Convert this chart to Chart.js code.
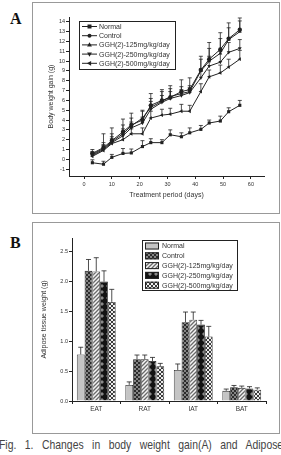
<!DOCTYPE html>
<html>
<head>
<meta charset="utf-8">
<script src="https://cdn.jsdelivr.net/npm/chart.js@4.4.0/dist/chart.umd.min.js"></script>
<style>
html, body { margin:0; padding:0; background:#fff; }
body { width:281px; height:455px; overflow:hidden; position:relative; font-family:"Liberation Sans", Arial, sans-serif; }
.box { position:absolute; border:1px solid #999; box-sizing:border-box; }
.box div { position:relative; width:100%; height:100%; }
.lab { position:absolute; font:bold 16px "Liberation Serif", serif; color:#111; }
#cap { position:absolute; left:-1px; top:437px; font-size:13px; color:#444; white-space:nowrap; word-spacing:7px; transform:scaleX(0.8); transform-origin:0 0; }
</style>
</head>
<body>
<div class="lab" style="left:10px;top:10px">A</div>
<div class="box" style="left:32px;top:2px;width:248px;height:212px"><div><canvas id="chartA"></canvas></div></div>
<div class="lab" style="left:10px;top:234px">B</div>
<div class="box" style="left:32px;top:222px;width:248px;height:212px"><div><canvas id="chartB"></canvas></div></div>
<div id="cap">Fig. 1. Changes in body weight gain(A) and Adipose</div>
<script>
// ---- panel A: body weight gain ----
const days = [3, 7, 10, 14, 17, 21, 24, 28, 31, 35, 38, 42, 45, 49, 52, 56];
const groupNames = ['Normal', 'Control', 'GGH(2)-125mg/kg/day', 'GGH(2)-250mg/kg/day', 'GGH(2)-500mg/kg/day'];
const gainNormal = [-0.35, -0.5, 0.2, 0.6, 0.65, 1.3, 1.7, 1.7, 2.5, 2.3, 2.7, 3.05, 3.7, 3.9, 4.85, 5.5];
const gainControl = [0.6, 1.2, 1.9, 2.8, 3.5, 4.0, 5.5, 6.0, 6.3, 6.9, 7.1, 9.1, 10.2, 11.2, 12.3, 13.2];
const gain125 = [0.5, 1.1, 1.8, 2.6, 3.4, 4.2, 5.3, 5.9, 6.4, 6.7, 6.9, 9.0, 10.0, 10.8, 12.2, 13.0];
const gain250 = [0.4, 1.0, 1.7, 2.4, 3.2, 3.7, 5.1, 5.8, 6.2, 6.5, 6.8, 8.3, 9.5, 9.9, 10.9, 11.3];
const gain500 = [0.3, 0.9, 1.6, 2.0, 2.6, 2.6, 4.2, 4.5, 4.6, 4.9, 4.9, 6.9, 8.4, 8.8, 9.4, 10.2];
const errNormal = [0.3, 0.3, 0.3, 0.5, 0.4, 0.6, 0.4, 0.3, 0.5, 0.4, 0.5, 0.4, 0.3, 0.5, 0.4, 0.5];
const errControl = [0.4, 1.4, 1.3, 1.3, 1.2, 1.0, 1.2, 1.1, 1.2, 1.2, 1.2, 1.4, 1.7, 1.7, 1.6, 1.2];
const err125 = [0.3, 0.6, 0.8, 0.9, 0.8, 0.7, 0.9, 1.0, 0.8, 0.7, 0.6, 1.2, 1.3, 1.5, 1.2, 1.1];
const err250 = [0.3, 0.5, 0.6, 0.7, 0.6, 0.6, 0.8, 0.7, 0.7, 0.6, 0.5, 0.9, 1.0, 1.1, 1.0, 0.9];
const err500 = [0.3, 0.5, 0.5, 0.6, 0.5, 0.6, 0.7, 0.6, 0.6, 0.7, 0.6, 0.8, 0.7, 0.8, 0.8, 0.9];
const yTicksA = [-1, 0, 1, 2, 3, 4, 5, 6, 7, 8, 9, 10, 11, 12, 13, 14];
const xTicksA = [0, 10, 20, 30, 40, 50, 60];

// ---- panel B: adipose tissue weight ----
const tissues = ['EAT', 'RAT', 'IAT', 'BAT'];
const fatNormal = [0.78, 0.27, 0.52, 0.17];
const fatControl = [2.18, 0.70, 1.32, 0.23];
const fat125 = [2.17, 0.70, 1.36, 0.22];
const fat250 = [2.00, 0.67, 1.28, 0.21];
const fat500 = [1.66, 0.58, 1.08, 0.19];
const fatErrNormal = [0.12, 0.05, 0.10, 0.03];
const fatErrControl = [0.19, 0.07, 0.17, 0.03];
const fatErr125 = [0.23, 0.07, 0.13, 0.03];
const fatErr250 = [0.18, 0.06, 0.07, 0.03];
const fatErr500 = [0.21, 0.05, 0.17, 0.03];
const yTicksB = [0, 0.5, 1.0, 1.5, 2.0, 2.5];

const ink = '#222';

// error bars (upward only, with cap)
const errBars = {
  id: 'errBars',
  afterDatasetsDraw(chart, args, opts) {
    const ctx = chart.ctx, ys = chart.scales.y;
    ctx.save();
    ctx.strokeStyle = ink;
    ctx.lineWidth = 0.8;
    chart.data.datasets.forEach((ds, i) => {
      if (!ds.errs) return;
      chart.getDatasetMeta(i).data.forEach((el, j) => {
        const d = ds.data[j];
        const v = typeof d === 'object' ? d.y : d;
        const top = ys.getPixelForValue(v + ds.errs[j]);
        ctx.beginPath();
        ctx.moveTo(el.x, el.y);
        ctx.lineTo(el.x, top);
        ctx.moveTo(el.x - opts.cap, top);
        ctx.lineTo(el.x + opts.cap, top);
        ctx.stroke();
      });
    });
    ctx.restore();
  }
};

function marker(ctx, style, rot, x, y, r) {
  ctx.save();
  ctx.translate(x, y);
  ctx.rotate(rot * Math.PI / 180);
  ctx.beginPath();
  if (style === 'rect') ctx.rect(-r, -r, 2 * r, 2 * r);
  else if (style === 'triangle') { ctx.moveTo(0, -r * 1.3); ctx.lineTo(r * 1.2, r * 0.8); ctx.lineTo(-r * 1.2, r * 0.8); ctx.closePath(); }
  else ctx.arc(0, 0, r, 0, Math.PI * 2);
  ctx.fill();
  ctx.restore();
}

// boxed legends drawn inside the plot
const legendA = {
  id: 'legendA',
  afterDraw(chart) {
    const ctx = chart.ctx, a = chart.chartArea;
    const x0 = a.left + 10, y0 = a.top + 4;
    ctx.save();
    ctx.fillStyle = '#fff';
    ctx.fillRect(x0, y0, 96, 48);
    ctx.strokeStyle = ink;
    ctx.lineWidth = 1;
    ctx.strokeRect(x0 + 0.5, y0 + 0.5, 96, 48);
    ctx.font = '7px "Liberation Sans", Arial, sans-serif';
    ctx.textBaseline = 'middle';
    chart.data.datasets.forEach((ds, i) => {
      const yy = y0 + 5.5 + i * 9.2;
      ctx.beginPath();
      ctx.moveTo(x0 + 3, yy);
      ctx.lineTo(x0 + 18, yy);
      ctx.stroke();
      ctx.fillStyle = ink;
      marker(ctx, ds.pointStyle, ds.pointRotation || 0, x0 + 10.5, yy, 2);
      ctx.fillStyle = '#333';
      ctx.fillText(ds.label, x0 + 20, yy + 0.5);
    });
    ctx.restore();
  }
};

const legendB = {
  id: 'legendB',
  afterDraw(chart) {
    const ctx = chart.ctx, a = chart.chartArea;
    const x0 = a.left + 70, y0 = a.top + 2;
    ctx.save();
    ctx.fillStyle = '#fff';
    ctx.fillRect(x0, y0, 95, 50);
    ctx.strokeStyle = ink;
    ctx.lineWidth = 1;
    ctx.strokeRect(x0 + 0.5, y0 + 0.5, 95, 50);
    ctx.font = '7px "Liberation Sans", Arial, sans-serif';
    ctx.textBaseline = 'middle';
    chart.data.datasets.forEach((ds, i) => {
      const yy = y0 + 6 + i * 9.8;
      ctx.fillStyle = ds.backgroundColor;
      ctx.fillRect(x0 + 3, yy - 3.5, 14, 7);
      ctx.strokeRect(x0 + 3.5, yy - 3, 13, 6);
      ctx.fillStyle = '#333';
      ctx.fillText(ds.label, x0 + 20, yy + 0.5);
    });
    ctx.restore();
  }
};

function pattern(size, draw) {
  const c = document.createElement('canvas');
  c.width = c.height = size;
  const g = c.getContext('2d');
  draw(g, size);
  return g.createPattern(c, 'repeat');
}

const fillNormal = '#c4c4c4';
const fillControl = pattern(4, (g, s) => {
  g.fillStyle = '#2c2c2c'; g.fillRect(0, 0, s, s);
  g.strokeStyle = '#9a9a9a'; g.lineWidth = 0.8;
  g.beginPath(); g.moveTo(0, 0); g.lineTo(s, s); g.moveTo(s, 0); g.lineTo(0, s); g.stroke();
});
const fill125 = pattern(4, (g, s) => {
  g.fillStyle = '#f4f4f4'; g.fillRect(0, 0, s, s);
  g.strokeStyle = '#6a6a6a'; g.lineWidth = 1.3;
  g.beginPath(); g.moveTo(0, s); g.lineTo(s, 0); g.moveTo(-1, 1); g.lineTo(1, -1); g.moveTo(s - 1, s + 1); g.lineTo(s + 1, s - 1); g.stroke();
});
const fill250 = pattern(6, (g, s) => {
  g.fillStyle = '#141414'; g.fillRect(0, 0, s, s);
  g.fillStyle = '#8a8a8a';
  g.beginPath(); g.moveTo(3, 1); g.lineTo(5, 3); g.lineTo(3, 5); g.lineTo(1, 3); g.closePath(); g.fill();
});
const fill500 = pattern(4, (g, s) => {
  g.fillStyle = '#eeeeee'; g.fillRect(0, 0, s, s);
  g.fillStyle = '#3a3a3a'; g.fillRect(0, 0, 2, 2); g.fillRect(2, 2, 2, 2);
});

const tickFont = { family: 'Liberation Sans', size: 5.5 };
const titleFont = { family: 'Liberation Sans', size: 7 };

function lineSet(label, vals, errs, style, rot) {
  return {
    label: label,
    data: days.map((d, i) => ({ x: d, y: vals[i] })),
    errs: errs,
    borderColor: ink,
    backgroundColor: ink,
    borderWidth: 1,
    pointStyle: style,
    pointRotation: rot,
    pointRadius: 2.2,
    pointBorderWidth: 0,
    tension: 0
  };
}

new Chart(document.getElementById('chartA').getContext('2d'), {
  type: 'line',
  data: {
    datasets: [
      lineSet(groupNames[0], gainNormal, errNormal, 'rect', 0),
      lineSet(groupNames[1], gainControl, errControl, 'circle', 0),
      lineSet(groupNames[2], gain125, err125, 'triangle', 0),
      lineSet(groupNames[3], gain250, err250, 'triangle', 180),
      lineSet(groupNames[4], gain500, err500, 'triangle', -90)
    ]
  },
  options: {
    responsive: true,
    maintainAspectRatio: false,
    animation: false,
    layout: { padding: { top: 14, right: 15, left: 0, bottom: 0 } },
    plugins: { legend: { display: false }, tooltip: { enabled: false }, errBars: { cap: 2 } },
    scales: {
      x: {
        type: 'linear',
        min: -5.4,
        max: 64.7,
        afterBuildTicks: s => { s.ticks = xTicksA.map(v => ({ value: v })); },
        afterFit: s => { s.height = 37; },
        grid: { drawOnChartArea: false, color: ink, tickLength: 3 },
        border: { color: ink, width: 1 },
        ticks: { color: '#333', font: tickFont, padding: 2, maxRotation: 0 },
        title: { display: true, text: 'Treatment period (days)', color: '#333', font: titleFont, padding: { top: 0, bottom: 14 } }
      },
      y: {
        min: -1.7,
        max: 14.5,
        afterBuildTicks: s => { s.ticks = yTicksA.map(v => ({ value: v })); },
        afterFit: s => { s.width = 36; },
        grid: { drawOnChartArea: false, color: ink, tickLength: 3 },
        border: { color: ink, width: 1 },
        ticks: { color: '#333', font: tickFont, padding: 1 },
        title: { display: true, text: 'Body weight gain (g)', color: '#333', font: titleFont, padding: { top: 14, bottom: 0 } }
      }
    }
  },
  plugins: [errBars, legendA]
});

function barSet(label, vals, errs, fill) {
  return {
    label: label,
    data: vals,
    errs: errs,
    backgroundColor: fill,
    borderColor: ink,
    borderWidth: 0.8,
    categoryPercentage: 0.8,
    barPercentage: 1.0
  };
}

new Chart(document.getElementById('chartB').getContext('2d'), {
  type: 'bar',
  data: {
    labels: tissues,
    datasets: [
      barSet(groupNames[0], fatNormal, fatErrNormal, fillNormal),
      barSet(groupNames[1], fatControl, fatErrControl, fillControl),
      barSet(groupNames[2], fat125, fatErr125, fill125),
      barSet(groupNames[3], fat250, fatErr250, fill250),
      barSet(groupNames[4], fat500, fatErr500, fill500)
    ]
  },
  options: {
    responsive: true,
    maintainAspectRatio: false,
    animation: false,
    layout: { padding: { top: 15, right: 13, left: 0, bottom: 0 } },
    plugins: { legend: { display: false }, tooltip: { enabled: false }, errBars: { cap: 2.5 } },
    scales: {
      x: {
        afterFit: s => { s.height = 32; },
        grid: { drawOnChartArea: false, color: ink, tickLength: 3 },
        border: { color: ink, width: 1 },
        ticks: { color: '#333', font: { family: 'Liberation Sans', size: 6.5 }, padding: 1 }
      },
      y: {
        min: 0,
        max: 2.73,
        afterBuildTicks: s => { s.ticks = yTicksB.map(v => ({ value: v })); },
        afterFit: s => { s.width = 39; },
        grid: { drawOnChartArea: false, color: ink, tickLength: 3 },
        border: { color: ink, width: 1 },
        ticks: { color: '#333', font: tickFont, padding: 1, callback: v => v.toFixed(1) },
        title: { display: true, text: 'Adipose tissue weight (g)', color: '#333', font: titleFont, padding: { top: 7, bottom: 0 } }
      }
    }
  },
  plugins: [errBars, legendB]
});
</script>
</body>
</html>
